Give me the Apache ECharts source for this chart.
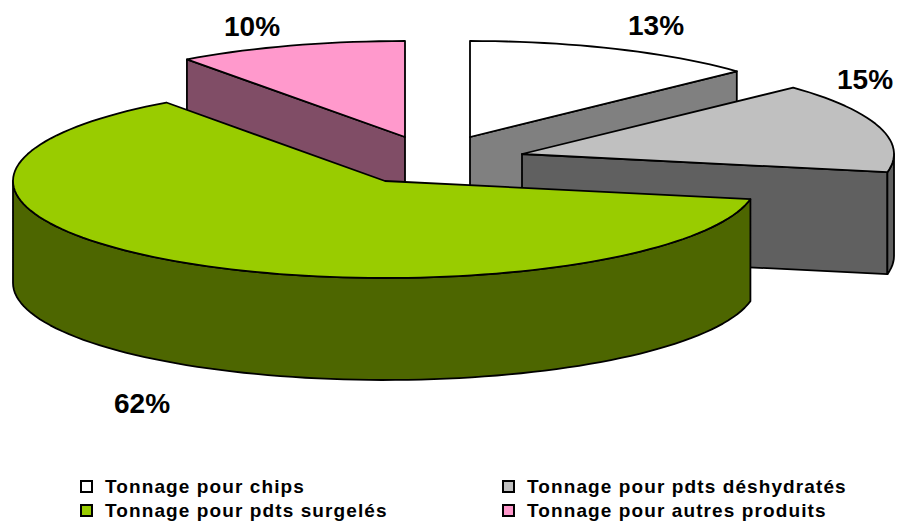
<!DOCTYPE html>
<html>
<head>
<meta charset="utf-8">
<style>
  html, body { margin: 0; padding: 0; background: #fff; }
  #chart { width: 897px; height: 522px; }
  /* legend text in the original is spaced out */
  #chart text[style*="19px"] { letter-spacing: 1.1px; }
</style>
<script src="https://cdn.jsdelivr.net/npm/echarts@6/dist/echarts.min.js"></script>
</head>
<body>
<div id="chart"></div>
<script>
// Slices, clockwise from 12 o'clock
const categories = ['Tonnage pour chips', 'Tonnage pour pdts déshydratés', 'Tonnage pour pdts surgelés', 'Tonnage pour autres produits']
const shares = [13, 15, 62, 10]
const topColors = ['#ffffff', '#c0c0c0', '#99cc00', '#ff99cc']
const wallColors = ['#808080', '#606060', '#4d6600', '#804d66']

// Exploded 3D layout: apex and ellipse radii of each slice, label centre
const apexes = [[470, 137], [522, 154], [385, 181], [405, 137]]
const radiiX = [366, 372, 372, 371]
const radiiY = [96, 97, 97, 96]
const labelCentres = [[656, 25], [865, 79], [142, 403], [252, 26]]
const legendSpots = [[80, 477], [502, 477], [80, 501], [502, 501]]
const depth = 102
// Back slices first so the front ones cover them
const drawOrder = [0, 3, 1, 2]

const lineStyle = { stroke: '#000', lineWidth: 1.8, lineJoin: 'round' }

function rimPoint(i, deg, drop) {
  const t = (deg * Math.PI) / 180
  return [
    apexes[i][0] + radiiX[i] * Math.sin(t),
    apexes[i][1] - radiiY[i] * Math.cos(t) + (drop || 0),
  ]
}

function rimPoints(i, from, to, drop) {
  const pts = []
  const steps = Math.max(2, Math.ceil(Math.abs(to - from) / 2))
  for (let s = 0; s <= steps; s += 1) {
    pts.push(rimPoint(i, from + ((to - from) * s) / steps, drop))
  }
  return pts
}

function polygon(points, fill) {
  return { type: 'polygon', shape: { points }, style: { ...lineStyle, fill } }
}

function radiusWall(i, deg) {
  const [ax, ay] = apexes[i]
  return polygon([[ax, ay], rimPoint(i, deg), rimPoint(i, deg, depth), [ax, ay + depth]], wallColors[i])
}

function renderSlice(i) {
  return (params, api) => {
    const before = shares.slice(0, i).reduce((a, b) => a + b, 0)
    const start = (before / 100) * 360
    const end = start + (api.value(0) / 100) * 360
    const children = []

    // cut faces that look towards the viewer
    if (Math.sin((start * Math.PI) / 180) < -0.01) children.push(radiusWall(i, start))
    if (Math.sin((end * Math.PI) / 180) > 0.01) children.push(radiusWall(i, end))

    // outer wall, only the front half of the ellipse shows
    const from = Math.max(start, 90)
    const to = Math.min(end, 270)
    if (to > from) {
      children.push(polygon(rimPoints(i, from, to).concat(rimPoints(i, to, from, depth)), wallColors[i]))
    }

    // top face
    children.push(polygon([apexes[i]].concat(rimPoints(i, start, end)), topColors[i]))

    children.push({
      type: 'text',
      x: labelCentres[i][0],
      y: labelCentres[i][1],
      style: {
        text: api.value(0) + '%',
        font: 'bold 28px "Liberation Sans", Arial, sans-serif',
        fill: '#000',
        align: 'center',
        verticalAlign: 'middle',
      },
    })
    return { type: 'group', children }
  }
}

// One legend per entry, the original has two aligned columns
function legendEntry(i) {
  return {
    left: legendSpots[i][0],
    top: legendSpots[i][1],
    padding: 0,
    itemWidth: 11,
    itemHeight: 11,
    selectedMode: false,
    icon: 'rect',
    itemStyle: { borderColor: '#000', borderWidth: 2 },
    textStyle: {
      fontFamily: '"Liberation Sans", Arial, sans-serif',
      fontWeight: 'bold',
      fontSize: 19,
      color: '#000',
      padding: [0, 0, 0, 8],
    },
    data: [categories[i]],
  }
}

const chart = echarts.init(document.getElementById('chart'), null, { renderer: 'svg' })
chart.setOption({
  animation: false,
  backgroundColor: '#fff',
  legend: categories.map((name, i) => legendEntry(i)),
  series: drawOrder.map((i) => ({
    type: 'custom',
    name: categories[i],
    coordinateSystem: 'none',
    silent: true,
    itemStyle: { color: topColors[i] },
    renderItem: renderSlice(i),
    data: [[shares[i]]],
  })),
})
</script>
</body>
</html>
